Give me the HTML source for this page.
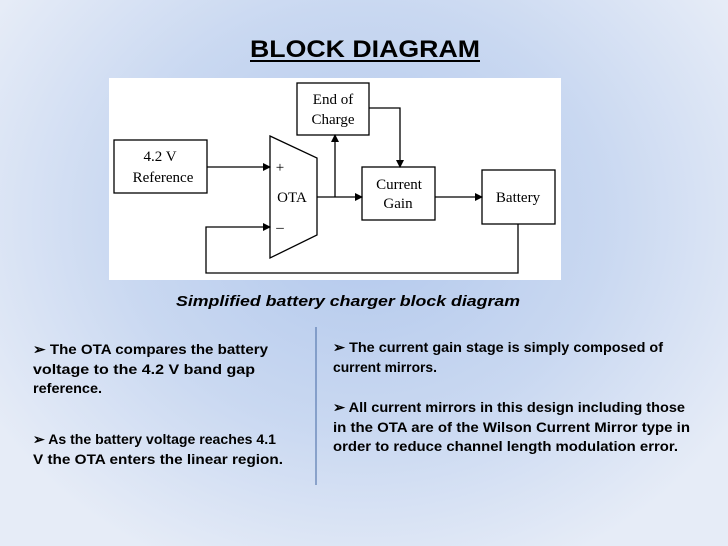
<!DOCTYPE html>
<html><head><meta charset="utf-8"><style>
html,body{margin:0;padding:0;width:728px;height:546px;overflow:hidden}
body{background:radial-gradient(ellipse 60% 70% at 50% 40%, #b2c8ec 0%, #c9d8f1 55%, #e6ecf7 100%);}
svg{position:absolute;left:0;top:0}
</style></head><body>
<svg width="728" height="546" viewBox="0 0 728 546" font-family="Liberation Sans, sans-serif">
<defs><marker id="a" markerWidth="8" markerHeight="8" refX="7" refY="4" orient="auto" markerUnits="userSpaceOnUse"><path d="M0,0 L8,4 L0,8 z" fill="#000"/></marker></defs>
<text x="365" y="57" text-anchor="middle" font-size="24" font-weight="bold" textLength="230" lengthAdjust="spacingAndGlyphs">BLOCK DIAGRAM</text>
<rect x="250" y="60" width="230" height="2" fill="#000"/>
<rect x="109" y="78" width="452" height="202" fill="#fff"/>
<g stroke="#000" stroke-width="1.3" fill="none">
<rect x="114" y="140" width="93" height="53"/>
<polygon points="270,136 317,158 317,235 270,258"/>
<rect x="297" y="83" width="72" height="52"/>
<rect x="362" y="167" width="73" height="53"/>
<rect x="482" y="170" width="73" height="54"/>
<line x1="207" y1="167" x2="270" y2="167" marker-end="url(#a)"/>
<polyline points="518,224 518,273 206,273 206,227 270,227" marker-end="url(#a)"/>
<line x1="317" y1="197" x2="362" y2="197" marker-end="url(#a)"/>
<line x1="335" y1="197" x2="335" y2="135" marker-end="url(#a)"/>
<polyline points="369,108 400,108 400,167" marker-end="url(#a)"/>
<line x1="435" y1="197" x2="482" y2="197" marker-end="url(#a)"/>
</g>
<g font-family="Liberation Serif, serif" font-size="15" text-anchor="middle" fill="#000">
<text x="160" y="161">4.2 V</text>
<text x="163" y="182">Reference</text>
<text x="333" y="104">End of</text>
<text x="333" y="124">Charge</text>
<text x="399" y="189">Current</text>
<text x="398" y="208">Gain</text>
<text x="518" y="202">Battery</text>
<text x="292" y="202">OTA</text>
<text x="280" y="172">+</text>
<text x="280" y="232">–</text>
</g>
<text x="348" y="306" text-anchor="middle" font-size="15" font-weight="bold" font-style="italic" textLength="344" lengthAdjust="spacingAndGlyphs">Simplified battery charger block diagram</text>
<line x1="316" y1="327" x2="316" y2="485" stroke="#5a7bb0" stroke-width="1.2"/>
<g font-size="14" font-weight="bold" fill="#000">
<text x="33" y="354" textLength="235" lengthAdjust="spacingAndGlyphs">➢ The OTA compares the battery</text>
<text x="33" y="374" textLength="222" lengthAdjust="spacingAndGlyphs">voltage to the 4.2 V band gap</text>
<text x="33" y="393" textLength="69" lengthAdjust="spacingAndGlyphs">reference.</text>
<text x="33" y="444" textLength="243" lengthAdjust="spacingAndGlyphs">➢ As the battery voltage reaches 4.1</text>
<text x="33" y="464" textLength="250" lengthAdjust="spacingAndGlyphs">V  the OTA enters the linear region.</text>
<text x="333" y="352" textLength="330" lengthAdjust="spacingAndGlyphs">➢ The current gain stage is simply composed of</text>
<text x="333" y="372" textLength="104" lengthAdjust="spacingAndGlyphs">current mirrors.</text>
<text x="333" y="412" textLength="352" lengthAdjust="spacingAndGlyphs">➢ All current mirrors in this design including those</text>
<text x="333" y="432" textLength="357" lengthAdjust="spacingAndGlyphs">in the OTA are of the Wilson Current Mirror type in</text>
<text x="333" y="451" textLength="345" lengthAdjust="spacingAndGlyphs">order to reduce channel length modulation error.</text>
</g>
</svg>
</body></html>
